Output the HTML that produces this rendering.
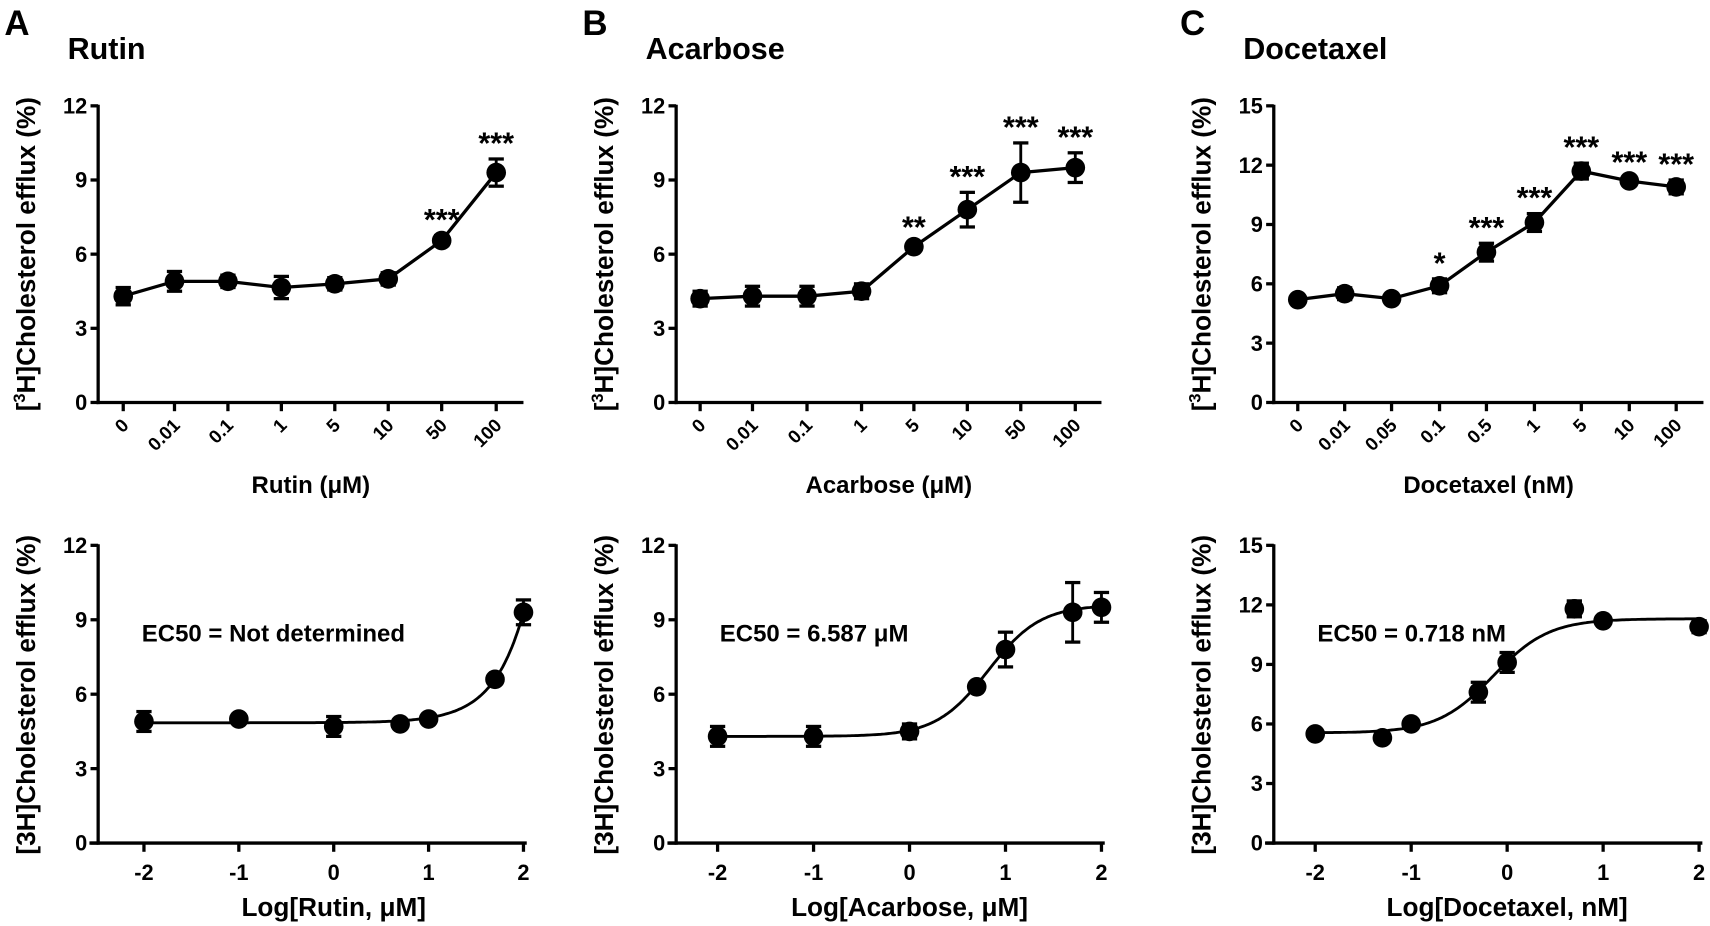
<!DOCTYPE html>
<html><head><meta charset="utf-8"><style>
html,body{margin:0;padding:0;background:#fff;}
svg{display:block;font-family:"Liberation Sans",Arial,sans-serif;font-weight:bold;}
</style></head><body>
<div id="wrap"></div>
<script>
(function(){
var out='';
function L(x1,y1,x2,y2,w){out+='<line x1="'+x1+'" y1="'+y1+'" x2="'+x2+'" y2="'+y2+'" stroke="#000" stroke-width="'+(w||3)+'"/>';}
function T(x,y,t,sz,anc){out+='<text x="'+x+'" y="'+y+'" font-size="'+sz+'" text-anchor="'+(anc||'start')+'">'+t+'</text>';}
function C(x,y){out+='<circle cx="'+x+'" cy="'+y+'" r="9" fill="#000"/>';}
function EB(x,y1,y2){L(x,y1,x,y2,2.6);L(x-7,y1,x+7,y1,3);L(x-7,y2,x+7,y2,3);}
function ylab(x,cy,sup){
 if(sup) out+='<text transform="translate('+x+','+cy+') rotate(-90)" font-size="24" text-anchor="middle">[<tspan font-size="15" dy="-9">3</tspan><tspan dy="9">H]Cholesterol efflux (%)</tspan></text>';
 else out+='<text transform="translate('+x+','+cy+') rotate(-90)" font-size="24" text-anchor="middle">[3H]Cholesterol efflux (%)</text>';
}
function topPanel(ax,xs,labels,vals,errs,stars,ymax,xend,title,xt,letter){
 var y0=369,y1=97,k=(y0-y1)/ymax,i,n=ymax/3;
 T(ax-86,32,letter,32,'start');
 T(ax-28,54,title,28,'start');
 L(ax,y1-1,ax,y0+1.5);L(ax-1.5,y0,xend,y0);
 for(i=0;i<=n;i++){var v=3*i,yy=y0-v*k;L(ax-7,yy,ax,yy);T(ax-10,yy+7,v,20,'end');}
 ylab(ax-58,233,true);
 var pts=[];
 for(i=0;i<xs.length;i++){L(xs[i],y0,xs[i],y0+8);
  out+='<text transform="translate('+(xs[i]+6)+','+(y0+22)+') rotate(-45)" font-size="17" text-anchor="end">'+labels[i]+'</text>';
  pts.push(xs[i]+','+(y0-vals[i]*k));}
 out+='<polyline points="'+pts.join(' ')+'" fill="none" stroke="#000" stroke-width="3"/>';
 for(i=0;i<xs.length;i++){var y=y0-vals[i]*k;EB(xs[i],y-errs[i]*k,y+errs[i]*k);C(xs[i],y);
  if(stars[i])T(xs[i],y-errs[i]*k-5,stars[i],28,'middle');}
 T((ax+xend)/2,452,xt,22,'middle');
}
topPanel(90,[113,160,209,258,307,356,405,455],['0','0.01','0.1','1','5','10','50','100'],
 [4.3,4.9,4.9,4.65,4.8,5.0,6.55,9.3],[0.35,0.4,0.25,0.45,0.25,0.25,0.2,0.55],
 ['','','','','','','***','***'],12,480,'Rutin','Rutin (μM)','A');
topPanel(620,[642,690,740,790,838,887,936,986],['0','0.01','0.1','1','5','10','50','100'],
 [4.2,4.3,4.3,4.5,6.3,7.8,9.3,9.5],[0.3,0.4,0.4,0.3,0.15,0.7,1.2,0.6],
 ['','','','','**','***','***','***'],12,1010,'Acarbose','Acarbose (μM)','B');
topPanel(1168,[1190,1233,1276,1320,1363,1407,1450,1494,1537],['0','0.01','0.05','0.1','0.5','1','5','10','100'],
 [5.2,5.5,5.25,5.9,7.6,9.1,11.7,11.2,10.9],[0.2,0.3,0.2,0.35,0.45,0.45,0.4,0.15,0.35],
 ['','','','*','***','***','***','***','***'],15,1562,'Docetaxel','Docetaxel (nM)','C');
function botPanel(ax,x0,sc,ymax,px,py,pe,f,ec,xt){
 var y0=773,y1=500,k=(y0-y1)/ymax,i,n=ymax/3;
 L(ax,y1-1,ax,y0+1.5);L(ax-8,y0,x0+4*sc+3,y0);
 for(i=0;i<=n;i++){var v=3*i,yy=y0-v*k;L(ax-7,yy,ax,yy);T(ax-10,yy+7,v,20,'end');}
 ylab(ax-58,637,false);
 for(i=0;i<=4;i++){var xx=x0+i*sc;L(xx,y0,xx,y0+8);T(xx,y0+34,(i-2),20,'middle');}
 var d='';for(var j=0;j<=200;j++){var lx=-2+4*j/200;d+=(j?'L':'M')+(x0+(lx+2)*sc).toFixed(1)+','+(y0-f(lx)*k).toFixed(1);}
 out+='<path d="'+d+'" fill="none" stroke="#000" stroke-width="2.6"/>';
 for(i=0;i<px.length;i++){var x=x0+(px[i]+2)*sc,y=y0-py[i]*k;if(pe[i])EB(x,y-pe[i]*k,y+pe[i]*k);C(x,y);}
 T(ax+40,588,ec,22,'start');
 T(x0+2*sc,840,xt,24,'middle');
}
botPanel(90,132,87,12,[-2,-1,0,0.7,1,1.7,2],[4.9,5.0,4.7,4.8,5.0,6.6,9.3],[0.4,0.1,0.4,0.1,0.1,0.1,0.5],
 function(x){return 4.85+4.45*Math.pow(10,1.35*(x-2));},'EC50 = Not determined','Log[Rutin, μM]');
botPanel(620,658,88,12,[-2,-1,0,0.7,1,1.7,2],[4.3,4.3,4.5,6.3,7.8,9.3,9.5],[0.4,0.4,0.3,0.1,0.7,1.2,0.6],
 function(x){return 4.3+5.3/(1+Math.pow(10,(0.819-x)*1.6));},'EC50 = 6.587 μM','Log[Acarbose, μM]');
botPanel(1168,1206,88,15,[-2,-1.3,-1,-0.3,0,0.7,1,2],[5.5,5.3,6.0,7.6,9.1,11.8,11.2,10.9],[0.1,0.1,0.1,0.5,0.5,0.4,0.1,0.3],
 function(x){return 5.55+5.75/(1+Math.pow(10,(-0.144-x)*1.5));},'EC50 = 0.718 nM','Log[Docetaxel, nM]');
document.getElementById('wrap').innerHTML='<svg width="1710" height="926" viewBox="0 0 1568 849" xmlns="http://www.w3.org/2000/svg">'+out+'</svg>';
})();
</script>
</body></html>
